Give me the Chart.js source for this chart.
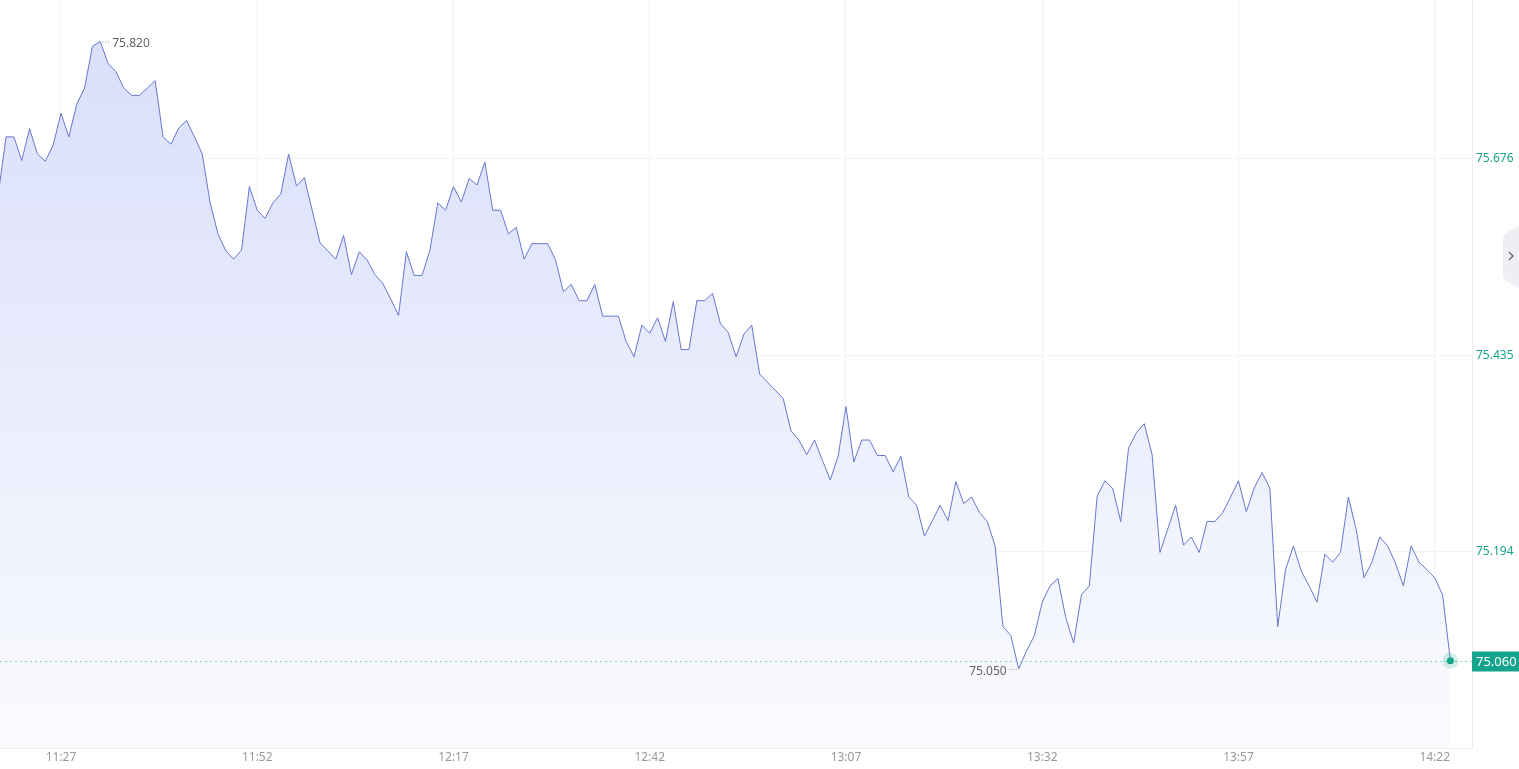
<!DOCTYPE html>
<html>
<head>
<meta charset="utf-8">
<script src="https://cdn.jsdelivr.net/npm/chart.js@4.4.0/dist/chart.umd.min.js"></script>
<style>
  html, body { margin: 0; padding: 0; background: #fff; }
  #wrap { width: 1519px; height: 769px; position: relative; }
</style>
</head>
<body>
<div id="wrap"><canvas id="priceChart"></canvas></div>
<script>
// one price per minute, first point at 11:19
var startTime = '11:19';
var prices = [
    75.632, 75.703, 75.703, 75.674, 75.713, 75.682, 75.673, 75.693, 75.732, 75.703,
    75.743, 75.763, 75.814, 75.820, 75.793, 75.783, 75.763, 75.754, 75.754, 75.763,
    75.772, 75.703, 75.694, 75.714, 75.723, 75.703, 75.682, 75.622, 75.584, 75.563,
    75.553, 75.564, 75.642, 75.613, 75.603, 75.622, 75.633, 75.682, 75.643, 75.653,
    75.613, 75.573, 75.563, 75.553, 75.582, 75.534, 75.562, 75.552, 75.534, 75.523,
    75.504, 75.484, 75.562, 75.533, 75.533, 75.564, 75.622, 75.613, 75.642, 75.623,
    75.652, 75.644, 75.672, 75.613, 75.613, 75.584, 75.592, 75.553, 75.572, 75.572,
    75.572, 75.552, 75.513, 75.522, 75.502, 75.502, 75.522, 75.483, 75.483, 75.483,
    75.452, 75.433, 75.472, 75.462, 75.481, 75.452, 75.501, 75.442, 75.442, 75.502,
    75.502, 75.511, 75.474, 75.463, 75.433, 75.461, 75.472, 75.412, 75.402, 75.392,
    75.382, 75.342, 75.331, 75.313, 75.331, 75.306, 75.282, 75.311, 75.372, 75.304,
    75.331, 75.331, 75.312, 75.312, 75.292, 75.311, 75.261, 75.251, 75.213, 75.232,
    75.251, 75.232, 75.280, 75.253, 75.261, 75.242, 75.231, 75.201, 75.102, 75.091,
    75.050, 75.072, 75.091, 75.132, 75.152, 75.161, 75.113, 75.082, 75.141, 75.152,
    75.262, 75.281, 75.271, 75.231, 75.321, 75.340, 75.351, 75.313, 75.193, 75.222,
    75.251, 75.202, 75.212, 75.193, 75.231, 75.231, 75.242, 75.261, 75.281, 75.243,
    75.272, 75.291, 75.272, 75.102, 75.172, 75.201, 75.170, 75.152, 75.132, 75.191,
    75.181, 75.193, 75.261, 75.221, 75.162, 75.181, 75.212, 75.201, 75.180, 75.152,
    75.201, 75.181, 75.172, 75.162, 75.141, 75.060
];
var timeTicks = ['11:27', '11:52', '12:17', '12:42', '13:07', '13:32', '13:57', '14:22'];
var priceTicks = [74.953, 75.194, 75.435, 75.676];
var lastPrice = 75.060;

function toMin(t) {
    var p = t.split(':');
    return parseInt(p[0]) * 60 + parseInt(p[1]);
}
function fmtTime(m) {
    var h = Math.floor(m / 60), mm = Math.round(m % 60);
    return h + ':' + (mm < 10 ? '0' + mm : mm);
}

var t0 = toMin(startTime);
var points = prices.map(function (p, i) { return { x: t0 + i, y: p }; });

var teal = '#14a38b';

var overlay = {
    id: 'overlay',
    afterDatasetsDraw: function (chart) {
        var ctx = chart.ctx, area = chart.chartArea;
        var ys = chart.scales.y;
        ctx.save();

        // last price dotted line
        var ly = Math.round(ys.getPixelForValue(lastPrice)) + 0.5;
        ctx.strokeStyle = '#7fd6c9';
        ctx.lineWidth = 1;
        ctx.setLineDash([2, 3]);
        ctx.beginPath();
        ctx.moveTo(area.left, ly);
        ctx.lineTo(area.right, ly);
        ctx.stroke();
        ctx.setLineDash([]);

        // last price box
        ctx.fillStyle = teal;
        ctx.fillRect(area.right, ly - 10, chart.width - area.right, 20);
        ctx.fillStyle = '#fff';
        ctx.font = '13px "Noto Sans"';
        ctx.textBaseline = 'middle';
        ctx.textAlign = 'left';
        ctx.fillText(lastPrice.toFixed(3), area.right + 4, ly + 1);

        // end dot with glow
        var meta = chart.getDatasetMeta(0);
        var last = meta.data[meta.data.length - 1];
        ctx.fillStyle = 'rgba(20,163,139,0.18)';
        ctx.beginPath();
        ctx.arc(last.x, last.y, 8, 0, Math.PI * 2);
        ctx.fill();
        ctx.fillStyle = teal;
        ctx.beginPath();
        ctx.arc(last.x, last.y, 3.5, 0, Math.PI * 2);
        ctx.fill();

        // max / min marks
        var hi = 0, lo = 0;
        prices.forEach(function (p, i) {
            if (p > prices[hi]) hi = i;
            if (p < prices[lo]) lo = i;
        });
        var ph = meta.data[hi], pl = meta.data[lo];
        ctx.font = '12px "Noto Sans"';
        ctx.fillStyle = '#666';
        ctx.strokeStyle = '#888';
        ctx.setLineDash([1, 2]);
        ctx.beginPath();
        ctx.moveTo(ph.x + 2, ph.y + 0.5);
        ctx.lineTo(ph.x + 10, ph.y + 0.5);
        ctx.moveTo(pl.x - 2, pl.y + 0.5);
        ctx.lineTo(pl.x - 10, pl.y + 0.5);
        ctx.stroke();
        ctx.setLineDash([]);
        ctx.textAlign = 'left';
        ctx.fillText(prices[hi].toFixed(3), ph.x + 12, ph.y + 2);
        ctx.textAlign = 'right';
        ctx.fillText(prices[lo].toFixed(3), pl.x - 12, pl.y + 3);

        // side tab
        ctx.fillStyle = '#efeff3';
        ctx.beginPath();
        ctx.moveTo(chart.width, 226);
        ctx.lineTo(1508, 232);
        ctx.quadraticCurveTo(1503, 234, 1503, 240);
        ctx.lineTo(1503, 274);
        ctx.quadraticCurveTo(1503, 280, 1508, 282);
        ctx.lineTo(chart.width, 288);
        ctx.closePath();
        ctx.fill();
        ctx.strokeStyle = '#666';
        ctx.lineWidth = 1.3;
        ctx.beginPath();
        ctx.moveTo(1509, 252);
        ctx.lineTo(1513, 256);
        ctx.lineTo(1509, 260);
        ctx.stroke();

        ctx.restore();
    }
};

new Chart('priceChart', {
    type: 'line',
    data: {
        datasets: [{
            data: points,
            borderColor: '#6677cf',
            borderWidth: 1,
            pointRadius: 0,
            tension: 0,
            fill: 'start',
            backgroundColor: function (c) {
                var a = c.chart.chartArea;
                if (!a) return 'rgba(223,227,250,0.8)';
                var g = c.chart.ctx.createLinearGradient(0, a.top, 0, a.bottom);
                g.addColorStop(0, 'rgba(216,221,250,1)');
                g.addColorStop(1, 'rgba(250,251,254,1)');
                return g;
            }
        }]
    },
    options: {
        responsive: true,
        maintainAspectRatio: false,
        animation: false,
        layout: { padding: 0 },
        plugins: { legend: { display: false }, tooltip: { enabled: false } },
        scales: {
            x: {
                type: 'linear',
                min: toMin(timeTicks[0]) - 7.77,
                max: toMin(timeTicks[0]) + 179.75,
                afterBuildTicks: function (s) {
                    s.ticks = timeTicks.map(function (t) { return { value: toMin(t) }; });
                },
                afterFit: function (s) {
                    s.height = 21;
                    s.paddingLeft = 0;
                    s.paddingRight = 0;
                },
                grid: { color: '#f3f3f6', drawTicks: false },
                border: { color: '#eeeef2' },
                ticks: {
                    color: '#999',
                    font: { size: 12, family: 'Noto Sans' },
                    padding: 2,
                    maxRotation: 0,
                    autoSkip: false,
                    callback: function (v) { return fmtTime(v); }
                }
            },
            y: {
                position: 'right',
                min: 74.953,
                max: 75.871,
                afterBuildTicks: function (s) {
                    s.ticks = priceTicks.map(function (v) { return { value: v }; });
                },
                afterFit: function (s) {
                    s.width = 47;
                    s.paddingTop = 0;
                    s.paddingBottom = 0;
                },
                grid: { color: '#f3f3f6', drawTicks: false },
                border: { color: '#eeeef2' },
                ticks: {
                    color: teal,
                    font: { size: 12, family: 'Noto Sans' },
                    padding: 4,
                    callback: function (v) { return v === priceTicks[0] ? '' : v.toFixed(3); }
                }
            }
        }
    },
    plugins: [overlay]
});
</script>
</body>
</html>
